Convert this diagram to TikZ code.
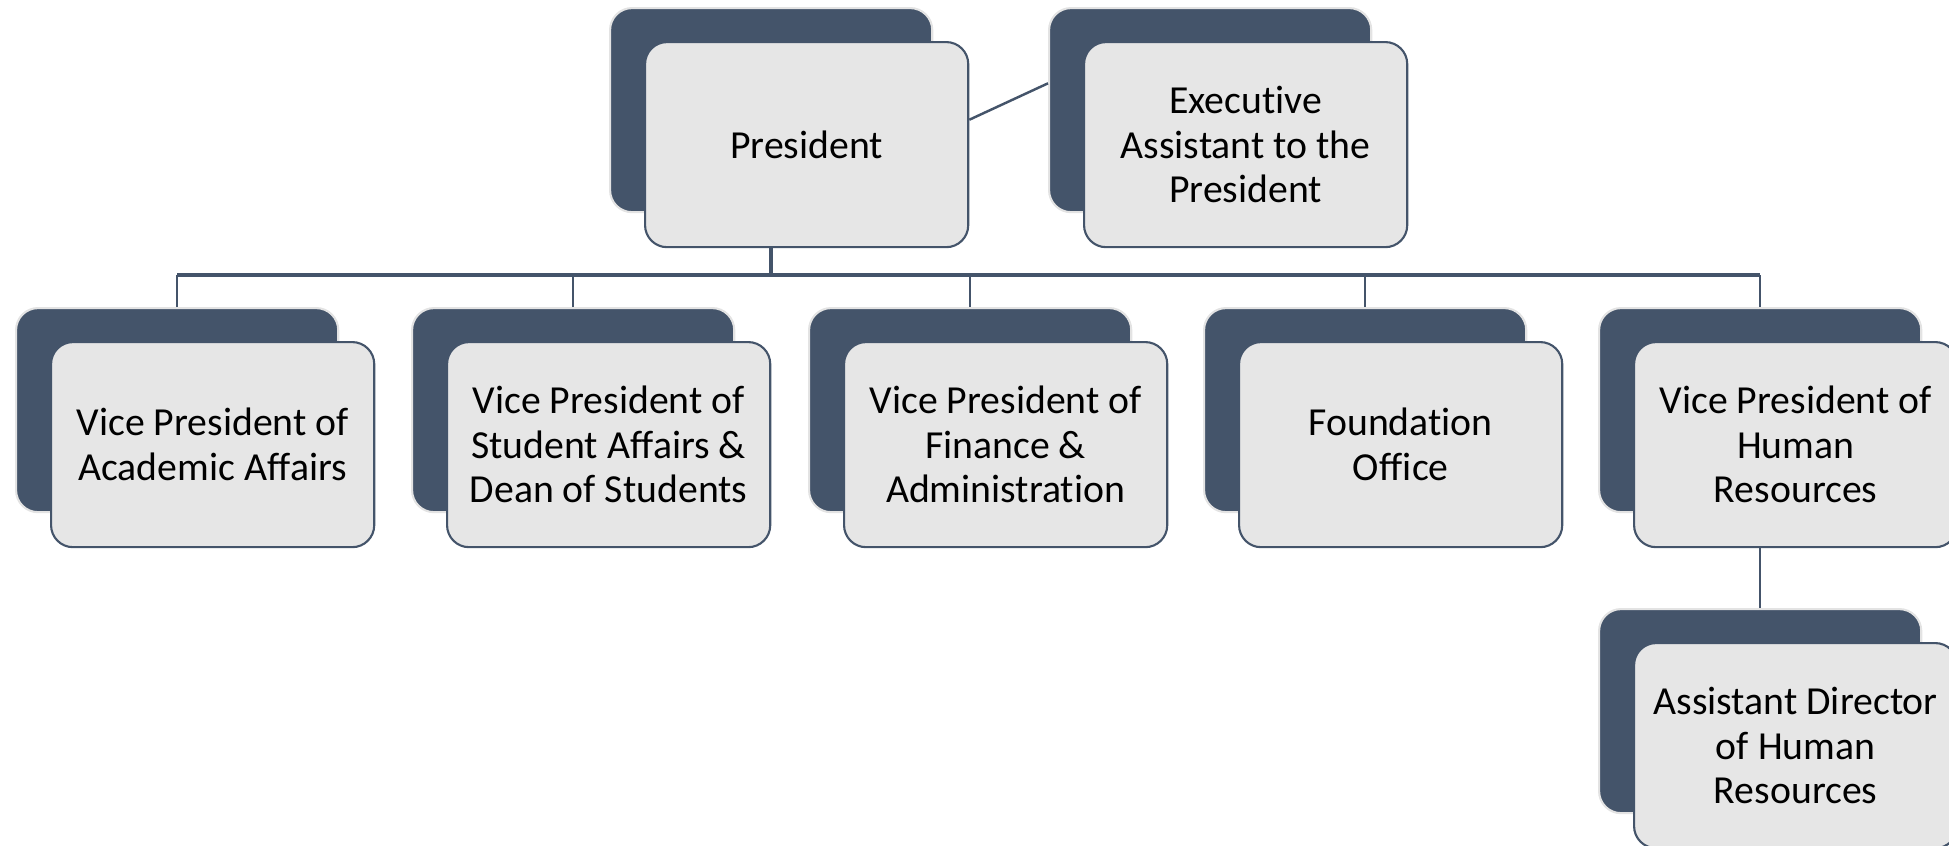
\documentclass[tikz,border=0pt]{standalone}
\usepackage{fontspec}
\setmainfont{Carlito}[Ligatures=NoCommon]
\usetikzlibrary{calc}
\definecolor{backc}{HTML}{44546A}
\definecolor{frontc}{HTML}{E6E6E6}
\definecolor{lightedge}{HTML}{E3E3E3}
\tikzset{
  backbox/.style={draw=lightedge, line width=0.6pt, fill=backc, rounded corners=2.2mm,
    minimum width=3.22cm, minimum height=2.04cm, inner sep=0pt, anchor=north west},
  frontbox/.style={draw=backc, line width=0.6pt, fill=frontc, rounded corners=2.2mm,
    minimum width=3.23cm, minimum height=2.05cm, inner sep=1pt, anchor=north west,
    align=center, font=\fontsize{11.3}{12.7}\selectfont, text=black},
  busline/.style={draw=backc, line width=1.1pt},
  dropline/.style={draw=backc, line width=0.7pt}
}
\newcommand{\orgbox}[4]{%
  \node[backbox] (#1b) at (#2,#3) {};
  \node[frontbox] (#1) at (#2+35,#3+34) {#4};
}
\begin{document}
\begin{tikzpicture}[x=0.01cm,y=-0.01cm]
\useasboundingbox (0,0) rectangle (1949,845);
\clip (0,0) rectangle (1949,845);
\orgbox{pres}{609}{7}{President}
\orgbox{exec}{1048}{7}{Executive\\Assistant to the\\President}
\orgbox{vpaa}{15}{307}{Vice President of\\Academic Affairs}
\orgbox{vpsa}{411}{307}{Vice President of\\Student Affairs \&\\Dean of Students}
\orgbox{vpfa}{808}{307}{Vice President of\\Finance \&\\Administration}
\orgbox{found}{1203}{307}{Foundation\\Office}
\orgbox{vphr}{1598}{307}{Vice President of\\Human\\Resources}
\orgbox{asst}{1598}{608}{Assistant Director\\of Human\\Resources}
\coordinate (busL) at (175,275);
\coordinate (busR) at (1759,275);
\draw[busline] (presb.north |- pres.south) -- (presb.north |- busL);
\draw[busline] (vpaab.north |- busL) -- (vphrb.north |- busR);
\foreach \n in {vpaa,vpsa,vpfa,found,vphr}{
  \draw[dropline] (\n b.north) -- (\n b.north |- busL);
}
\draw[dropline] (vphrb.center |- vphr.south) -- (asstb.north);
\draw[dropline] ($(pres.north east)!0.38!(pres.south east)$) -- ($(execb.north west)!0.37!(execb.south west)$);
\end{tikzpicture}
\end{document}
